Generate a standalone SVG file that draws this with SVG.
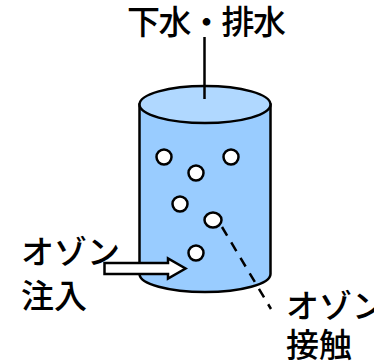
<svg xmlns="http://www.w3.org/2000/svg" width="374" height="361" viewBox="0 0 374 361">
  <style>
    .lbl { font-family: "Noto Sans CJK JP", "Noto Sans", sans-serif; font-size: 33px; font-weight: 500; fill: #000; }
    .edge { stroke: #000; stroke-width: 2.5; }
    .bubble { fill: #fff; stroke: #000; stroke-width: 2.5; }
  </style>
  <rect width="374" height="361" fill="#fff"/>

  <!-- tank -->
  <g id="tank">
    <path d="M139.5,104.5 L139.5,274 A65.5,18 0 0 0 270.5,274 L270.5,104.5 Z" fill="#99CCFF" class="edge"/>
    <ellipse cx="205" cy="104.5" rx="65.5" ry="18.5" fill="#B0D8FF" class="edge"/>
  </g>

  <!-- ozone bubbles -->
  <g id="bubbles">
    <circle class="bubble" cx="164" cy="157" r="7.5"/>
    <circle class="bubble" cx="231" cy="157" r="7.5"/>
    <circle class="bubble" cx="196" cy="173" r="7.5"/>
    <circle class="bubble" cx="180" cy="204" r="7.5"/>
    <ellipse class="bubble" cx="213" cy="220" rx="8.5" ry="7.5"/>
    <circle class="bubble" cx="196" cy="253" r="7.5"/>
  </g>

  <!-- connectors -->
  <g id="connectors">
    <line x1="204.5" y1="37" x2="204.5" y2="99" class="edge"/>
    <line x1="222" y1="227" x2="271" y2="309" class="edge" stroke-dasharray="10,8"/>
    <path d="M104.5,263 L168,263 L168,258.5 L185.5,268.5 L168,278.5 L168,274 L104.5,274 Z" fill="#fff" class="edge" stroke-linejoin="miter"/>
  </g>

  <!-- labels -->
  <g id="label-sewage"><text class="lbl" x="127" y="34" font-size="31" textLength="159" lengthAdjust="spacing">下水・排水</text></g>
  <g id="label-inject">
    <text class="lbl" x="21" y="264">オゾン</text>
    <text class="lbl" x="21" y="308">注入</text>
  </g>
  <g id="label-contact">
    <text class="lbl" x="286" y="318">オゾン</text>
    <text class="lbl" x="286" y="357">接触</text>
  </g>
</svg>
